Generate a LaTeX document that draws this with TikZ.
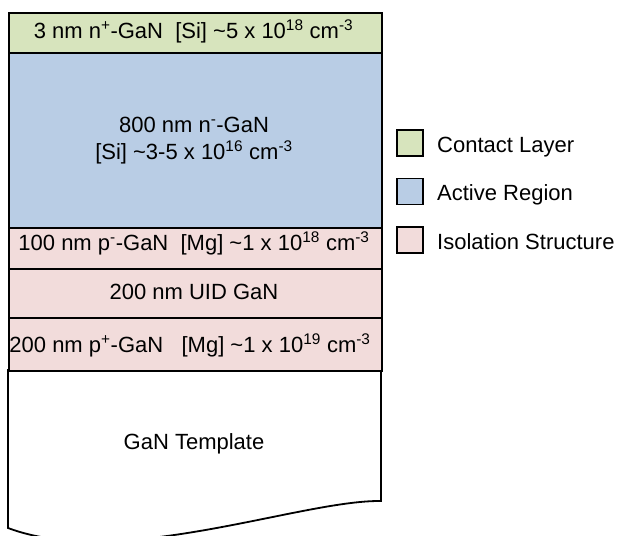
\documentclass[tikz,border=0pt]{standalone}
\usepackage{fontspec}
\setmainfont{Liberation Sans}
\definecolor{contactc}{HTML}{D7E4BD}
\definecolor{activec}{HTML}{B9CDE5}
\definecolor{isoc}{HTML}{F2DCDB}
\begin{document}
\begin{tikzpicture}[x=1pt,y=-1pt,
  layer/.style={draw=black, line width=1.8pt, minimum width=373pt, anchor=north west, inner sep=0pt},
  legbox/.style={draw=black, line width=1.8pt, minimum width=26pt, minimum height=26pt, inner sep=0pt},
  legtext/.style={anchor=base west, inner sep=0pt, font=\fontsize{22}{26}\selectfont},
  lbl/.style={anchor=base, inner sep=0pt, font=\fontsize{22}{26}\selectfont}]
\useasboundingbox (0,0) rectangle (620,535);
% template
\draw[line width=1.8pt, fill=white] (8,370) -- (8,528) .. controls (120,570) and (300,500) .. (381,501) -- (381,370) -- cycle;
\node[lbl] (tmpl) at (194,449) {GaN Template};
% layers
\node[layer, fill=contactc, minimum height=40pt] (contact) at (8,12) {};
\node[layer, fill=activec, minimum height=175pt] (active) at (8,52) {};
\node[layer, fill=isoc, minimum height=41pt] (pminus) at (8,227) {};
\node[layer, fill=isoc, minimum height=49pt] (uid) at (8,268) {};
\node[layer, fill=isoc, minimum height=53pt] (pplus) at (8,317) {};
\node[lbl] (contacttxt) at (193.5,38.5) {3 nm n\textsuperscript{+}-GaN\ \ [Si] \textasciitilde5 x 10\textsuperscript{18} cm\textsuperscript{-3}};
\node[lbl] (activetxt1) at (194,132) {800 nm n\textsuperscript{-}-GaN};
\node[lbl] (activetxt2) at (194,159) {[Si] \textasciitilde3-5 x 10\textsuperscript{16} cm\textsuperscript{-3}};
\node[lbl] (pminustxt) at (194,250) {100 nm p\textsuperscript{-}-GaN\ \ [Mg] \textasciitilde1 x 10\textsuperscript{18} cm\textsuperscript{-3}};
\node[lbl] (uidtxt) at (194,299.5) {200 nm UID GaN};
\node[lbl] (pplustxt) at (190,352) {200 nm p\textsuperscript{+}-GaN\ \ \ [Mg] \textasciitilde1 x 10\textsuperscript{19} cm\textsuperscript{-3}};
% legend
\node[legbox, fill=contactc] (lc) at (410,143) {};
\node[legtext] (lct) at (437,152) {Contact Layer};
\node[legbox, fill=activec] (la) at (410,191.5) {};
\node[legtext] (lat) at (437,200.5) {Active Region};
\node[legbox, fill=isoc] (li) at (410,240) {};
\node[legtext] (lit) at (437,249) {Isolation Structure};
\end{tikzpicture}
\end{document}
